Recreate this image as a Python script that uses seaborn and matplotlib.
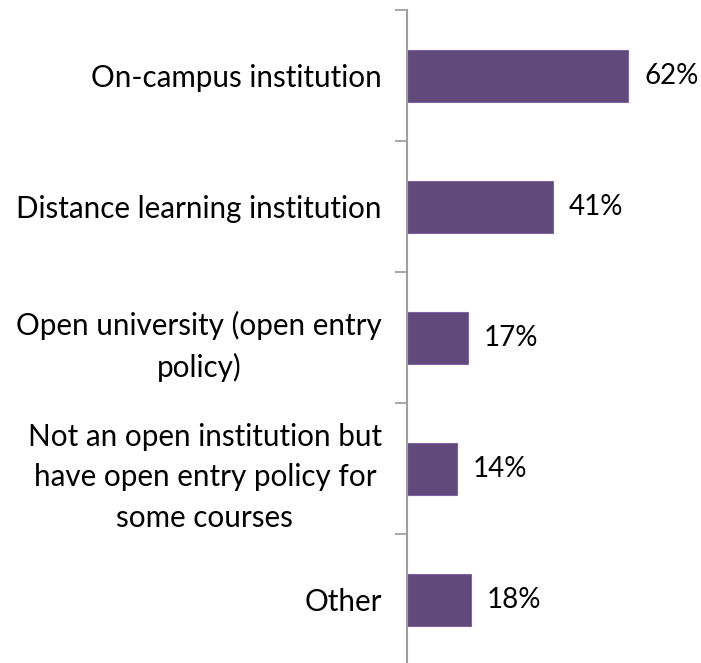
import matplotlib
matplotlib.use("Agg")
import matplotlib.pyplot as plt
import seaborn as sns
import pandas as pd

categories = [
    "On-campus institution",
    "Distance learning institution",
    "Open university (open entry\npolicy)",
    "Not an open institution but\nhave open entry policy for\nsome courses",
    "Other",
]
values = [62, 41, 17, 14, 18]
value_labels = ["62%", "41%", "17%", "14%", "18%"]

df = pd.DataFrame({"category": categories, "value": values})

sns.set_theme(style="white")
plt.rcParams["font.family"] = ["Lato", "DejaVu Sans"]

W, H = 701, 663
fig = plt.figure(figsize=(W / 100, H / 100), dpi=100)
left, right, top, bottom = 407, 701, 10, 665.5
ax = fig.add_axes([left / W, (H - bottom) / H, (right - left) / W, (bottom - top) / H])

bar_color = "#604A7B"
sns.barplot(data=df, x="value", y="category", orient="h", color=bar_color,
            width=0.396, edgecolor="#8064A2", linewidth=0.8, ax=ax,
            saturation=1)

ax.set_xlim(0, (right - left) / 3.57)
ax.set_ylim(len(categories) - 0.5, -0.5)
ax.set_xlabel("")
ax.set_ylabel("")
ax.set_xticks([])

# category boundary ticks on the left spine
ax.set_yticks([i - 0.5 for i in range(len(categories) + 1)], minor=False)
ax.set_yticklabels([])
ax.set_yticks(range(len(categories)), minor=True)
ax.set_yticklabels(categories, minor=True, fontsize=21.3, color="black",
                   multialignment="center", linespacing=1.53)
ax.tick_params(axis="y", which="major", length=9, width=1.3, color="#A0A0A0", left=True)
ax.tick_params(axis="y", which="minor", length=0, pad=18)

for s in ["top", "right", "bottom"]:
    ax.spines[s].set_visible(False)
ax.spines["left"].set_color("#A0A0A0")
ax.spines["left"].set_linewidth(1.5)

for i, (v, lab) in enumerate(zip(values, value_labels)):
    ax.text(v + 4.4, i, lab, va="center", ha="left", fontsize=20, color="black")

fig.savefig("out.png", dpi=100)
